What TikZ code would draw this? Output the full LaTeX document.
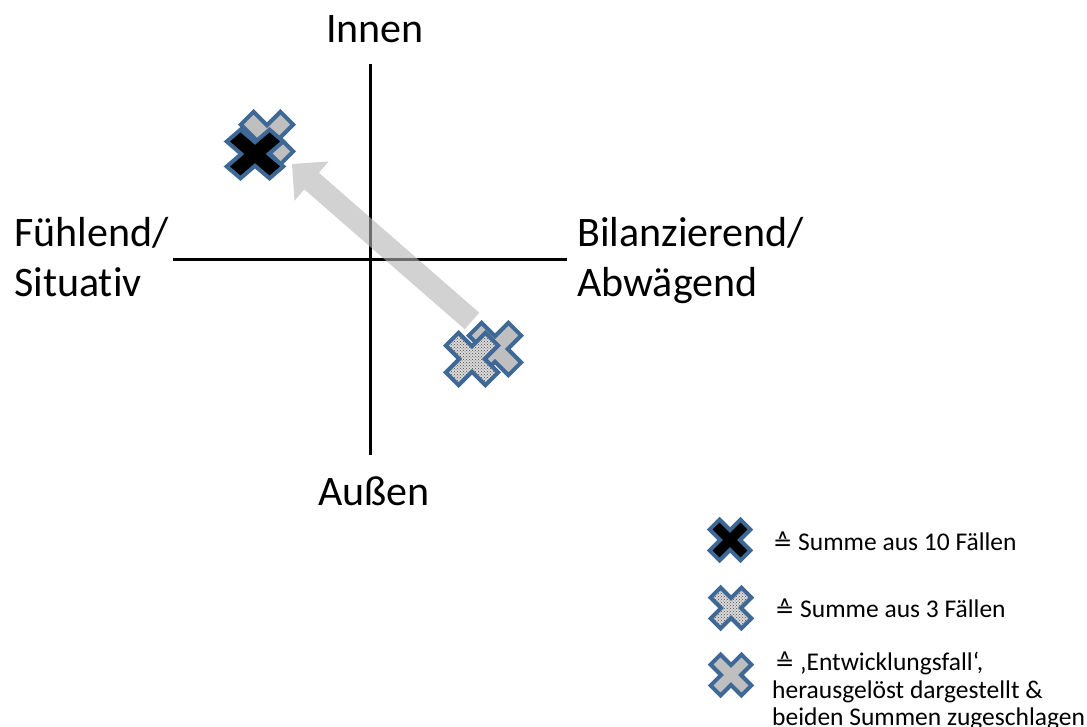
\documentclass[tikz,border=0pt]{standalone}
\usepackage{fontspec}
\setmainfont{Carlito}[Ligatures=NoCommon]
\newfontfamily\symf{DejaVu Sans}
\usetikzlibrary{patterns,calc}
\definecolor{xblue}{RGB}{62,104,150}
\definecolor{xgray}{RGB}{191,191,191}
\definecolor{arrgray}{RGB}{180,180,180}
\newcommand\xcrossshape{(-9,28)--(9,28)--(9,9)--(28,9)--(28,-9)--(9,-9)--(9,-28)--(-9,-28)--(-9,-9)--(-28,-9)--(-28,9)--(-9,9)--cycle}
\tikzset{
  axisline/.style={line width=3pt, black},
  axlabel/.style={anchor=base, inner sep=0pt, font=\fontsize{42}{50}\selectfont},
  sidelabel/.style={anchor=base west, inner sep=0pt, font=\fontsize{42}{50}\selectfont},
  leglabel/.style={anchor=base west, inner sep=0pt, font=\fontsize{25.5}{29}\selectfont},
  crossline/.style={draw=xblue, line width=4pt, line join=miter},
  blackcross/.style={crossline, fill=black},
  graycross/.style={crossline, fill=xgray},
  dotcross/.style={crossline, preaction={fill=gray!30}, pattern=crosshatch dots, pattern color=black!70},
  devarrow/.style={fill=arrgray, opacity=0.6}
}
\newcommand\eqhat{{\symf\fontsize{23}{26}\selectfont ≙}}
\begin{document}
\begin{tikzpicture}[x=1pt,y=-1pt]
\useasboundingbox (0,0) rectangle (1087,727);
% axes
\coordinate (vt) at (370,64);
\coordinate (vb) at (370,455);
\coordinate (hl) at (173,260);
\coordinate (hr) at (567,260);
\draw[axisline] (vt) -- (vb);
\draw[axisline] (hl) -- (hr);
% labels
\node[axlabel] (innen) at (375,43) {Innen};
\node[axlabel] (aussen) at (374,505) {Außen};
\node[sidelabel] (f1) at (14,247) {Fühlend/};
\node[sidelabel] (f2) at (14,297) {Situativ};
\node[sidelabel] (b1) at (577,247) {Bilanzierend/};
\node[sidelabel] (b2) at (577,297) {Abwägend};
% arrow
\coordinate (tip) at (292,164);
\coordinate (tail) at (472,321);
\coordinate (hb) at ($(tip)!26pt!(tail)$);
\fill[devarrow] (tip) -- ($(hb)!26pt!90:(tip)$) -- ($(hb)!11pt!90:(tip)$)
  -- ($(tail)!11pt!90:(tip)$) -- ($(tail)!11pt!-90:(tip)$)
  -- ($(hb)!11pt!-90:(tip)$) -- ($(hb)!26pt!-90:(tip)$) -- cycle;
% crosses upper left
\path[graycross, shift={(267,138)}, rotate=45] \xcrossshape;
\path[blackcross, shift={(255,154)}, xscale=1.08, yscale=0.93, rotate=45] \xcrossshape;
% crosses lower right
\path[graycross, shift={(495,349)}, rotate=45] \xcrossshape;
\path[dotcross, shift={(472,359)}, rotate=45] \xcrossshape;
% legend
\path[blackcross, shift={(730,540)}, scale=0.78, rotate=45] \xcrossshape;
\path[dotcross, shift={(731,608)}, scale=0.78, rotate=45] \xcrossshape;
\path[graycross, shift={(731,675)}, scale=0.78, rotate=45] \xcrossshape;
\node[leglabel] (l1) at (773,550) {\eqhat~Summe aus 10 Fällen};
\node[leglabel] (l2) at (775,617) {\eqhat~Summe aus 3 Fällen};
\node[leglabel] (l3a) at (775,670) {\eqhat~‚Entwicklungsfall‘,};
\node[leglabel] (l3b) at (772,698) {herausgelöst dargestellt \&};
\node[leglabel] (l3c) at (772,725) {beiden Summen zugeschlagen};
\end{tikzpicture}
\end{document}
